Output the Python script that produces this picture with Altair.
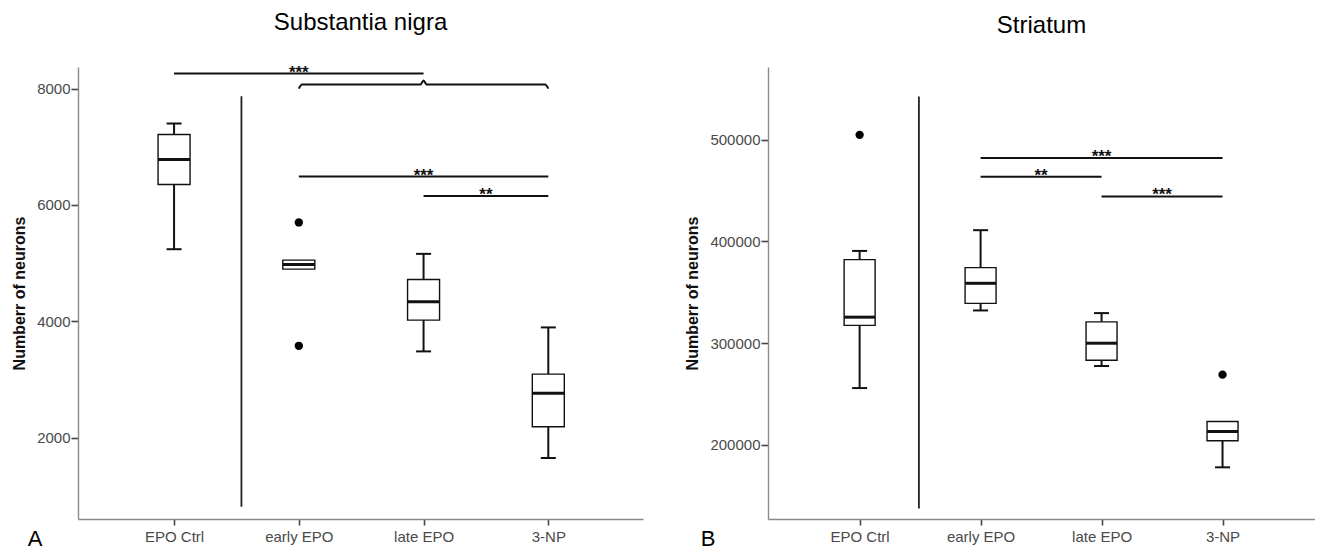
import altair as alt
import pandas as pd

FONT = "Liberation Sans"

categories = ["EPO Ctrl", "early EPO", "late EPO", "3-NP"]
cat_pos = [1, 2, 3, 4]

# ---- Substantia nigra (panel A) ----
sn_whisk_hi = [7400, 5052, 5160, 3896]
sn_q3 = [7210, 5052, 4720, 3094]
sn_median = [6780, 4978, 4336, 2763]
sn_q1 = [6352, 4897, 4022, 2190]
sn_whisk_lo = [5240, 4897, 3484, 1652]
sn_out_cat = ["early EPO", "early EPO"]
sn_out_val = [5700, 3580]
sn_sig_from = ["EPO Ctrl", "early EPO", "late EPO"]
sn_sig_to = ["late EPO", "3-NP", "3-NP"]
sn_sig_y = [8258, 6489, 6156]
sn_sig_label = ["***", "***", "**"]
sn_brace = ("early EPO", "late EPO", "3-NP", 8069, 70)
sn_sep = (1.54, 815, 7868)
sn_yticks = [2000, 4000, 6000, 8000]

# ---- Striatum (panel B) ----
st_whisk_hi = [390500, 410900, 329400, 222900]
st_q3 = [382000, 374100, 320800, 222900]
st_median = [325400, 358700, 299800, 213000]
st_q1 = [317300, 339000, 283000, 203900]
st_whisk_lo = [255700, 332000, 277400, 177800]
st_out_cat = ["EPO Ctrl", "3-NP"]
st_out_val = [504600, 268900]
st_sig_from = ["early EPO", "early EPO", "late EPO"]
st_sig_to = ["3-NP", "late EPO", "3-NP"]
st_sig_y = [481900, 463500, 444100]
st_sig_label = ["***", "**", "***"]
st_sep = (1.49, 137400, 542400)
st_yticks = [200000, 300000, 400000, 500000]

pos_of = dict(zip(categories, cat_pos))
label_expr = "[" + ",".join("'%s'" % c for c in categories) + "][datum.value - 1]"

INK = "#111111"


def panel(title, letter, letter_dx, whi, q3, med, q1, wlo, out_cat, out_val,
          sig_from, sig_to, sig_y, sig_label, sep, yticks, ydomain, xdomain,
          width, height, box_w, brace=None):
    xenc = lambda f: alt.X(f, type="quantitative",
                           scale=alt.Scale(domain=xdomain, nice=False, zero=False),
                           axis=alt.Axis(values=cat_pos, labelExpr=label_expr, title=None,
                                         grid=False, tickSize=6, labelPadding=4))
    yenc = lambda f: alt.Y(f, type="quantitative",
                           scale=alt.Scale(domain=ydomain, nice=False, zero=False),
                           axis=alt.Axis(values=yticks, format="d", title="Numberr of neurons",
                                         grid=False, tickSize=7, labelPadding=1,
                                         titlePadding=9))
    boxes = pd.DataFrame({"cat": categories, "pos": cat_pos, "whi": whi, "q3": q3,
                          "med": med, "q1": q1, "wlo": wlo})
    upper = boxes[boxes["whi"] > boxes["q3"]]
    lower = boxes[boxes["wlo"] < boxes["q1"]]
    outs = pd.DataFrame({"pos": [pos_of[c] for c in out_cat], "v": out_val})
    sig = pd.DataFrame({"pos": [pos_of[c] for c in sig_from],
                        "pos2": [pos_of[c] for c in sig_to],
                        "v": sig_y, "label": sig_label})
    sig["mid"] = (sig["pos"] + sig["pos2"]) / 2
    sepdf = pd.DataFrame({"pos": [sep[0]], "v": [sep[1]], "v2": [sep[2]]})

    layers = []
    layers.append(alt.Chart(upper).mark_rule(color=INK, strokeWidth=2).encode(
        x=xenc("pos"), y=yenc("q3"), y2="whi"))
    layers.append(alt.Chart(lower).mark_rule(color=INK, strokeWidth=2).encode(
        x=xenc("pos"), y=yenc("wlo"), y2="q1"))
    layers.append(alt.Chart(upper).mark_tick(orient="horizontal", color=INK, size=15,
                                             thickness=2, opacity=1).encode(
        x=xenc("pos"), y=yenc("whi")))
    layers.append(alt.Chart(lower).mark_tick(orient="horizontal", color=INK, size=15,
                                             thickness=2, opacity=1).encode(
        x=xenc("pos"), y=yenc("wlo")))
    layers.append(alt.Chart(boxes).mark_bar(size=box_w, fill="white", stroke=INK,
                                            strokeWidth=1.4, opacity=1).encode(
        x=xenc("pos"), y=yenc("q1"), y2="q3"))
    layers.append(alt.Chart(boxes).mark_tick(orient="horizontal", color=INK, size=box_w,
                                             thickness=3, opacity=1).encode(
        x=xenc("pos"), y=yenc("med")))
    layers.append(alt.Chart(outs).mark_circle(size=70, color="black", opacity=1).encode(
        x=xenc("pos"), y=yenc("v")))
    layers.append(alt.Chart(sepdf).mark_rule(color="#222222", strokeWidth=1.8).encode(
        x=xenc("pos"), y=yenc("v"), y2="v2"))
    layers.append(alt.Chart(sig).mark_rule(color=INK, strokeWidth=2).encode(
        x=xenc("pos"), x2="pos2", y=yenc("v")))
    layers.append(alt.Chart(sig).mark_text(font=FONT, fontSize=17, fontWeight="bold",
                                           baseline="alphabetic", dy=4, color=INK).encode(
        x=xenc("mid"), y=yenc("v"), text="label"))
    if brace is not None:
        b0, bm, b1, by, hook = brace
        p0, pm, p1 = pos_of[b0], pos_of[bm], pos_of[b1]
        e = 0.025
        bdf = pd.DataFrame({
            "i": list(range(7)),
            "pos": [p0, p0 + e, pm - e, pm, pm + e, p1 - e, p1],
            "v": [by - hook, by, by, by + hook, by, by, by - hook]})
        layers.append(alt.Chart(bdf).mark_line(color=INK, strokeWidth=2,
                                               interpolate="monotone").encode(
            x=xenc("pos"), y=yenc("v"), order="i:Q"))
    layers.append(alt.Chart(pd.DataFrame({"t": [letter]})).mark_text(
        font=FONT, fontSize=22, align="center", baseline="alphabetic", color="black").encode(
        x=alt.value(letter_dx), y=alt.value(height + 27), text="t:N"))

    return alt.layer(*layers).properties(
        width=width, height=height,
        title=alt.TitleParams(title, fontSize=24, font=FONT, fontWeight="normal",
                              color="black", anchor="middle", frame="group", offset=29))


left = panel("Substantia nigra", "A", -43, sn_whisk_hi, sn_q3, sn_median, sn_q1, sn_whisk_lo,
             sn_out_cat, sn_out_val, sn_sig_from, sn_sig_to, sn_sig_y, sn_sig_label,
             sn_sep, sn_yticks, [604, 8371], [0.27, 4.719], 565, 452, 32, brace=sn_brace)
right = panel("Striatum", "B", -60, st_whisk_hi, st_q3, st_median, st_q1, st_whisk_lo,
              st_out_cat, st_out_val, st_sig_from, st_sig_to, st_sig_y, st_sig_label,
              st_sep, st_yticks, [127000, 571300], [0.284, 4.723], 547, 452, 31)

chart = alt.hconcat(left, right, spacing=41).properties(
    padding={"left": 3, "top": 2, "right": 0, "bottom": 0}
).configure_view(stroke=None).configure_axis(
    domainColor="#8a8a8a", domainWidth=1.4, tickColor="#444444", tickWidth=1.6,
    labelColor="#4a4a4a", labelFont=FONT, labelFontSize=15,
    titleFont=FONT, titleFontSize=16, titleFontWeight="bold", titleColor="#111111"
)

chart.save("out.html", embed_options={"renderer": "svg", "actions": False})
